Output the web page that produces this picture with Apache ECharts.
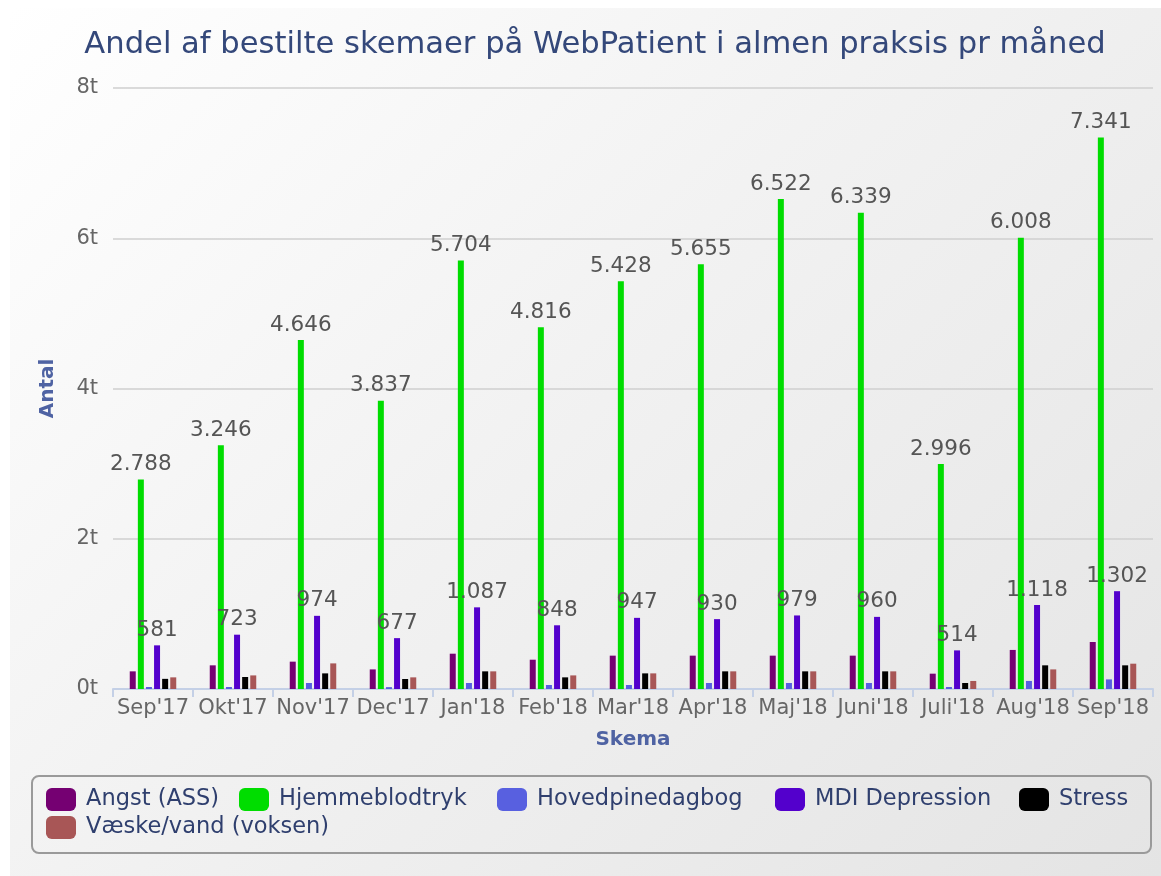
<!DOCTYPE html>
<html>
<head>
<meta charset="utf-8">
<script src="https://cdn.jsdelivr.net/npm/echarts@6/dist/echarts.min.js"></script>
<style>
  html, body { margin: 0; padding: 0; background: #ffffff; }
  #bg { position: absolute; left: 10px; top: 8px; width: 1151px; height: 868px;
        background: linear-gradient(135deg, #ffffff 0%, #f2f2f2 45%, #e4e4e4 100%); }
  #chart { position: absolute; left: 0; top: 0; width: 1161px; height: 876px; }
</style>
</head>
<body>
<div id="bg"></div>
<div id="chart"></div>
<script>
const categories = ["Sep'17","Okt'17","Nov'17","Dec'17","Jan'18","Feb'18","Mar'18","Apr'18","Maj'18","Juni'18","Juli'18","Aug'18","Sep'18"];
const angst      = [235, 315, 364, 261, 470, 390, 444, 444, 444, 444, 204, 520, 626];
const hjemme     = [2788, 3246, 4646, 3837, 5704, 4816, 5428, 5655, 6522, 6339, 2996, 6008, 7341];
const hovedpine  = [27, 27, 80, 25, 80, 53, 53, 80, 80, 80, 27, 107, 128];
const mdi        = [581, 723, 974, 677, 1087, 848, 947, 930, 979, 960, 514, 1118, 1302];
const stress     = [135, 160, 208, 133, 235, 155, 208, 235, 235, 235, 80, 315, 315];
const vaeske     = [155, 181, 341, 155, 235, 181, 208, 235, 235, 235, 107, 261, 337];
const yTicks     = [0, 2000, 4000, 6000, 8000];

const seriesDefs = [
  { name: 'Angst (ASS)', data: angst, color: '#750072', label: false },
  { name: 'Hjemmeblodtryk', data: hjemme, color: '#00dd00', label: true },
  { name: 'Hovedpinedagbog', data: hovedpine, color: '#5860e0', label: false },
  { name: 'MDI Depression', data: mdi, color: '#5300cc', label: true },
  { name: 'Stress', data: stress, color: '#000000', label: false },
  { name: 'Væske/vand (voksen)', data: vaeske, color: '#a85656', label: false }
];
// legend item placement (icon left, top)
const legendPos = [[46, 788], [239, 788], [497, 788], [775, 788], [1019, 788], [46, 816]];

function fmt(v) {
  return String(v).replace(/\B(?=(\d{3})+(?!\d))/g, '.');
}

const chart = echarts.init(document.getElementById('chart'), null, { renderer: 'canvas' });
const FONT = 'DejaVu Sans';
const legends = seriesDefs.map((s, i) => ({
  orient: 'horizontal',
  left: legendPos[i][0], top: legendPos[i][1],
  padding: 0,
  itemWidth: 30,
  itemHeight: 23,
  itemGap: 0,
  icon: 'roundRect',
  data: [s.name],
  textStyle: { fontFamily: FONT, fontSize: 22.5, color: '#2f3f6e', padding: [0, 0, 0, 5] }
}));
chart.setOption({
  backgroundColor: 'transparent',
  animation: false,
  title: {
    text: 'Andel af bestilte skemaer på WebPatient i almen praksis pr måned',
    left: 590, textAlign: 'center', top: 25,
    textStyle: { fontFamily: FONT, fontSize: 30.6, fontWeight: 'normal', color: '#34487a' }
  },
  legend: legends,
  graphic: [{
    type: 'rect', left: 31, top: 775, z: -1,
    shape: { width: 1119, height: 77, r: 7 },
    style: { fill: 'rgba(0,0,0,0)', stroke: '#9a9a9a', lineWidth: 2 }
  }],
  grid: { left: 113, right: 8, top: 88, bottom: 187, containLabel: false },
  xAxis: {
    type: 'category',
    data: categories,
    name: 'Skema', nameLocation: 'middle', nameGap: 41,
    nameTextStyle: { fontFamily: FONT, fontSize: 20, fontWeight: 'bold', color: '#4f63a3' },
    axisLine: { lineStyle: { color: '#c4d0e6', width: 2 } },
    axisTick: { show: true, alignWithLabel: false, length: 8, lineStyle: { color: '#c4d0e6', width: 2 } },
    axisLabel: { fontFamily: FONT, fontSize: 21, color: '#666666', margin: 9, interval: 0 }
  },
  yAxis: {
    type: 'value',
    min: yTicks[0], max: yTicks[yTicks.length - 1], interval: 2000,
    name: 'Antal', nameLocation: 'middle', nameGap: 55,
    nameTextStyle: { fontFamily: FONT, fontSize: 20, fontWeight: 'bold', color: '#4f63a3' },
    axisLine: { show: false }, axisTick: { show: false },
    splitLine: { lineStyle: { color: '#cfcfcf', width: 1.5 } },
    axisLabel: { fontFamily: FONT, fontSize: 21, color: '#666666', margin: 15,
      formatter: v => (v / 1000) + 't' }
  },
  series: seriesDefs.map(s => ({
    name: s.name,
    type: 'bar',
    data: s.data,
    barWidth: 6,
    barGap: '35%',
    itemStyle: { color: s.color },
    label: {
      show: s.label, position: 'top', distance: 4,
      fontFamily: FONT, fontSize: 21.5, color: '#555555',
      formatter: p => fmt(p.value)
    }
  }))
});
</script>
</body>
</html>
